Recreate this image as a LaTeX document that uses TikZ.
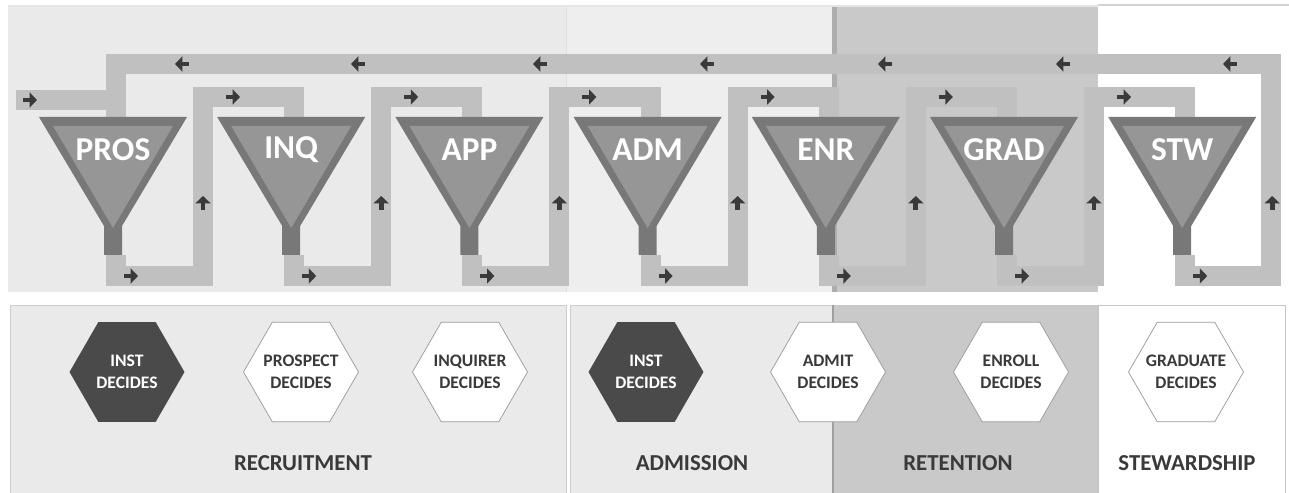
\documentclass[tikz,border=0pt]{standalone}
\usepackage{fontspec}
\setmainfont{Carlito}
\usetikzlibrary{arrows.meta,positioning,shapes.geometric,calc}
\usepackage{xcolor}
\definecolor{panelGray}{HTML}{EAEAEA}
\definecolor{panelLight}{HTML}{EEEEEE}
\definecolor{panelMid}{HTML}{C9C9C9}
\definecolor{edgeGray}{HTML}{ADADAD}
\definecolor{pipeGray}{HTML}{C0C0C0}
\definecolor{funnelDark}{HTML}{787878}
\definecolor{funnelFill}{HTML}{969696}
\definecolor{arrowGray}{HTML}{3A3A3A}
\definecolor{hexDark}{HTML}{4A4A4A}
\definecolor{textGray}{HTML}{3A3A3A}
\tikzset{
    pipe/.style={draw=pipeGray, line width=0.4cm, line join=miter},
    flowarrow/.style={
        draw=arrowGray,
        line width=2.8pt,
        -{Triangle[length=4.2pt,width=8.5pt]}
    },
    stagetext/.style={
        text=white,
        inner sep=0pt,
        font=\fontsize{19}{22}\selectfont\bfseries
    },
    decider/.style={
        regular polygon,
        regular polygon sides=6,
        minimum size=2.3cm,
        inner sep=-8pt,
        align=center,
        font=\fontsize{10}{12.5}\selectfont\bfseries
    },
    instbox/.style={decider, fill=hexDark, text=white},
    actorbox/.style={decider, fill=white, draw=gray!80, thin, text=textGray},
    phase/.style={text=textGray, font=\fontsize{13}{15}\selectfont\bfseries}
}

\begin{document}
\begin{tikzpicture}[x=0.02cm, y=-0.02cm]
    \useasboundingbox (0,0) rectangle (1289,493);

    % top panels
    \fill[panelGray] (8,7) rectangle (566,292);
    \fill[panelLight] (566,7) rectangle (832,292);
    \draw[gray!25] (566,7) -- (566,292);
    \fill[panelMid] (832,7) rectangle (1098,292);
    \fill[edgeGray] (832,7) rectangle (837,292);
    \draw[gray!20, line width=1pt] (8,6) -- (1098,6);
    \draw[gray!35, line width=1pt] (1098,5) -- (1289,5);

    % bottom panels
    \filldraw[fill=panelGray, draw=gray!40] (10,305) rectangle (566,493);
    \filldraw[fill=panelGray, draw=gray!40] (570,305) rectangle (832,493);
    \fill[panelMid] (832,305) rectangle (1098,493);
    \draw[gray!75, line width=1pt] (833,305) -- (833,493);
    \filldraw[fill=white, draw=gray!45] (1098,305) rectangle (1285,493);

    % funnel positions
    \foreach \name [count=\i from 0] in {pros,inq,app,adm,enr,grad,stw}
        \coordinate (\name) at ({113+178.2*\i},117);
    \coordinate (src) at (16,100);

    % pipes
    \draw[pipe] (src) -- (src -| pros);
    \foreach \a/\b in {pros/inq,inq/app,app/adm,adm/enr,enr/grad,grad/stw}
        \draw[pipe] ($(\a)+(3,138)$) -- ++(0,21) -| ($(\a)+(90,-20)$) -| ($(\b)+(3,5)$);
    \draw[pipe] ($(stw)+(3,138)$) -- ++(0,21) -| ($(stw)+(89,-53)$) -| ($(pros)+(3,5)$);

    % funnels
    \foreach \name/\txt in {pros/PROS,inq/INQ,app/APP,adm/ADM,enr/ENR,grad/GRAD,stw/STW} {
        \fill[funnelDark] ($(\name)+(-74,0)$) -- ++(148,0) -- ++(-65,109)
            -- ++(0,29) -- ++(-18,0) -- ++(0,-29) -- cycle;
        \fill[funnelFill] ($(\name)+(-60,9)$) -- ++(120,0) -- ++(-60,102) -- cycle;
        \node[stagetext] (\name-label) at ($(\name)+(0,33)$) {\txt};
    }

    % flow arrows
    \draw[flowarrow] ($(src)+(7,0)$) -- ++(14,0);
    \foreach \name in {pros,inq,app,adm,enr,grad,stw} {
        \draw[flowarrow] ($(\name)+(11,159)$) -- ++(14,0);
        \draw[flowarrow] ($(\name)+(90,93)$) -- ++(0,-14);
    }
    \foreach \name in {pros,inq,app,adm,enr,grad}
        \draw[flowarrow] ($(\name)+(113,-20)$) -- ++(14,0);
    \foreach \x in {182,358,540,707,885,1063,1230}
        \draw[flowarrow] (\x+7,64) -- ++(-14,0);

    % deciders
    \node[instbox] (inst-a) at (127,372) {INST\\DECIDES};
    \node[actorbox] (prospect) at (301,372) {PROSPECT\\DECIDES};
    \node[actorbox] (inquirer) at (470,372) {INQUIRER\\DECIDES};
    \node[instbox] (inst-b) at (646,372) {INST\\DECIDES};
    \node[actorbox] (admit) at (828,372) {ADMIT\\DECIDES};
    \node[actorbox] (enroll) at (1011,372) {ENROLL\\DECIDES};
    \node[actorbox] (graduate) at (1186,372) {GRADUATE\\DECIDES};

    % phases
    \node[phase] (recruitment) at (303,463) {RECRUITMENT};
    \node[phase] (admission) at (692,463) {ADMISSION};
    \node[phase] (retention) at (958,463) {RETENTION};
    \node[phase] (stewardship) at (1187,463) {STEWARDSHIP};
\end{tikzpicture}
\end{document}
